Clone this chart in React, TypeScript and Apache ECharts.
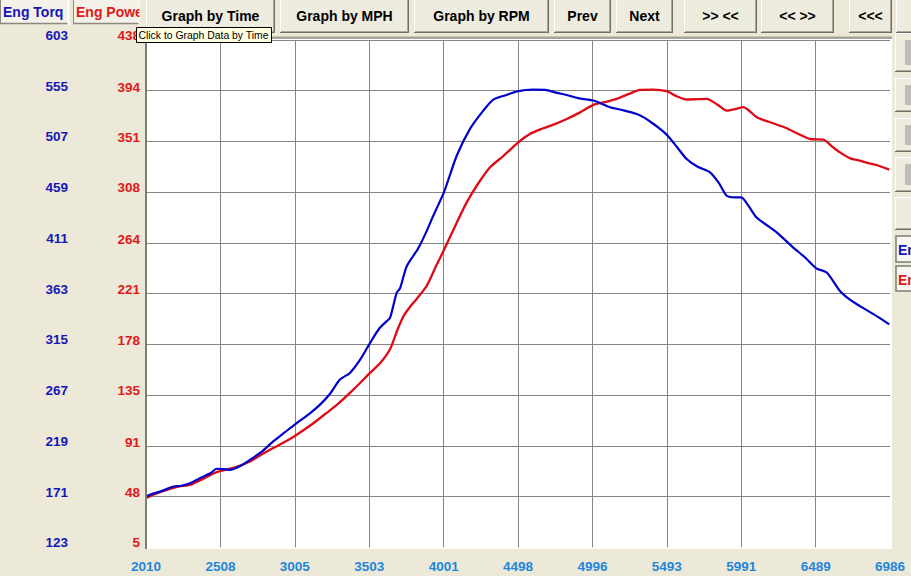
import React, { useEffect, useRef } from "react";
import * as echarts from "echarts";

// ---- chart data ----
const xTicks = [2010, 2508, 3005, 3503, 4001, 4498, 4996, 5493, 5991, 6489, 6986];
const torqueTicks = [123, 171, 219, 267, 315, 363, 411, 459, 507, 555, 603];
const powerTicks = [5, 48, 91, 135, 178, 221, 264, 308, 351, 394, 438];

const torqueRpm = [
  2010, 2060, 2110, 2193, 2240, 2304, 2380, 2440, 2483, 2530, 2572, 2640, 2706, 2780, 2861, 2940,
  3018, 3100, 3174, 3240, 3307, 3374, 3440, 3503, 3570, 3620, 3642, 3687, 3709, 3754, 3831, 3880,
  3931, 4005, 4088, 4177, 4266, 4333, 4420, 4500, 4600, 4679, 4760, 4824, 4900, 5002, 5113, 5180,
  5292, 5336, 5400, 5448, 5499, 5560, 5626, 5700, 5782, 5840, 5894, 5950, 5991, 6040, 6094, 6160,
  6228, 6339, 6420, 6493, 6563, 6651, 6720, 6785, 6897, 6981,
];
const torqueValues = [
  171, 174, 176, 180.5, 181, 183.7, 189, 193, 197.3, 197, 196.3, 200, 205.8, 213, 223.2, 232,
  240.6, 249, 258, 268, 281.7, 288, 300, 315, 330, 337, 340, 364, 368, 389, 406, 420,
  436.6, 459.8, 493.5, 518.9, 536.2, 546.6, 551, 554.6, 556, 555.8, 553, 551, 548, 545.7, 539.4, 537.2,
  533, 530, 524, 518.9, 512.5, 502, 490.4, 483, 477.8, 468, 455.6, 454, 454, 446, 435, 428,
  420.9, 406.6, 397, 387, 383, 365.5, 357, 351.2, 341.7, 333.9,
];

const powerRpm = [
  2010, 2060, 2150, 2230, 2304, 2400, 2483, 2600, 2706, 2780, 2861, 2940, 3018, 3120, 3218, 3300,
  3374, 3440, 3508, 3575, 3642, 3690, 3731, 3780, 3820, 3887, 3950, 4005, 4088, 4155, 4222, 4311,
  4400, 4500, 4580, 4667, 4740, 4824, 4910, 5002, 5080, 5158, 5240, 5314, 5400, 5492, 5560, 5626,
  5700, 5760, 5830, 5894, 5950, 6005, 6050, 6094, 6180, 6295, 6370, 6451, 6540, 6600, 6651, 6720,
  6785, 6840, 6897, 6981,
];
const powerValues = [
  47, 50, 54, 57, 58.3, 64, 69.2, 73, 78.2, 84, 89.7, 95, 101.1, 110, 119.7, 128,
  136.8, 145, 153.9, 162, 174, 190, 202, 211, 217, 228, 245, 259.4, 282, 299.4, 313.6, 329.3,
  339, 350.7, 358, 362.7, 366, 370.6, 376, 382.6, 385, 387.8, 392, 395.4, 395.7, 394.3, 390, 387.2,
  387.5, 387.8, 383, 377.7, 379, 380.7, 377, 372.1, 368, 362.7, 358, 353.5, 353, 347, 342.1, 337,
  335, 333, 331.3, 327.3,
];

// ---- UI chrome texts ----
const buttonLabels = ["Graph by Time", "Graph by MPH", "Graph by RPM", "Prev", "Next", ">> <<", "<< >>", "<<<", ""];
const tabLabels = ["Eng Torq", "Eng Power"];
const sideLabels = ["En", "En"];
const tooltipText = "Click to Graph Data by Time";

// ---- layout (not data) ----
const buttonSpans = [
  [146, 275], [280, 409], [414, 549], [554, 611], [616, 673], [684, 757], [761, 834], [849, 892], [896, 930],
];
const FONT = '"Liberation Sans", Arial, sans-serif';
const BG = "#ECE9D8";
const BLUE_LABEL = "#1616B8";
const RED_LABEL = "#E21818";
const X_LABEL = "#1E86DE";

function bevel(x0: number, y0: number, x1: number, y1: number, z = 5) {
  return [
    { type: "rect", z, shape: { x: x0, y: y0, width: x1 - x0, height: y1 - y0 }, style: { fill: "#EEEBDF" } },
    { type: "line", z: z + 1, shape: { x1: x0 + 0.5, y1: y0, x2: x0 + 0.5, y2: y1 - 1 }, style: { stroke: "#FFFFFF", lineWidth: 1 } },
    { type: "line", z: z + 1, shape: { x1: x0, y1: y0 + 0.5, x2: x1 - 1, y2: y0 + 0.5 }, style: { stroke: "#FFFFFF", lineWidth: 1 } },
    { type: "line", z: z + 1, shape: { x1: x0, y1: y1 - 0.5, x2: x1, y2: y1 - 0.5 }, style: { stroke: "#716F64", lineWidth: 1 } },
    { type: "line", z: z + 1, shape: { x1: x1 - 0.5, y1: y0, x2: x1 - 0.5, y2: y1 }, style: { stroke: "#716F64", lineWidth: 1 } },
    { type: "line", z: z + 1, shape: { x1: x0 + 1, y1: y1 - 1.5, x2: x1 - 1, y2: y1 - 1.5 }, style: { stroke: "#ACA899", lineWidth: 1 } },
    { type: "line", z: z + 1, shape: { x1: x1 - 1.5, y1: y0, x2: x1 - 1.5, y2: y1 - 1 }, style: { stroke: "#ACA899", lineWidth: 1 } },
  ];
}

function buildGraphic() {
  const els: any[] = [];
  // plot background
  els.push({ type: "rect", z: -1, shape: { x: 146, y: 38, width: 746, height: 511 }, style: { fill: "#FFFFFF" } });
  els.push({ type: "line", z: 50, shape: { x1: 146, y1: 37, x2: 146, y2: 549 }, style: { stroke: "#7C7C7C", lineWidth: 2 } });
  els.push({ type: "line", z: 50, shape: { x1: 145, y1: 38, x2: 892, y2: 38 }, style: { stroke: "#8A8A8A", lineWidth: 1.5 } });
  els.push({ type: "line", z: 50, shape: { x1: 145, y1: 36.5, x2: 892, y2: 36.5 }, style: { stroke: "#C9C6B6", lineWidth: 1 } });

  // tabs
  const tabs = [[0, 68], [73, 139]];
  const tabColors = [BLUE_LABEL, RED_LABEL];
  tabs.forEach(([a, b], i) => {
    els.push({ type: "rect", z: 5, shape: { x: a, y: 0, width: b - a, height: 24 }, style: { fill: "#F3F1E8" } });
    els.push({ type: "line", z: 6, shape: { x1: a, y1: 23.5, x2: b, y2: 23.5 }, style: { stroke: "#8C8A80", lineWidth: 1.5 } });
    els.push({ type: "line", z: 6, shape: { x1: a + 0.5, y1: 0, x2: a + 0.5, y2: 24 }, style: { stroke: "#8C8A80", lineWidth: 1 } });
    els.push({ type: "line", z: 6, shape: { x1: b + 0.5, y1: 0, x2: b + 0.5, y2: 25 }, style: { stroke: "#FFFFFF", lineWidth: 2 } });
    els.push({
      type: "text", z: 7,
      style: { text: tabLabels[i], x: a + 3, y: 12, verticalAlign: "middle", fill: tabColors[i], font: `bold 14px ${FONT}` },
    });
  });
  els.push({ type: "rect", z: 9, shape: { x: 139.5, y: 0, width: 7, height: 26 }, style: { fill: BG } });

  // top buttons (above the clipped tab text)
  buttonSpans.forEach(([a, b], i) => {
    bevel(a, -2, b, 33, 10).forEach((e) => els.push(e));
    if (buttonLabels[i]) {
      els.push({
        type: "text", z: 13,
        style: {
          text: buttonLabels[i], x: (a + b) / 2, y: 16, align: "center", verticalAlign: "middle",
          fill: "#000000", font: `bold 14px ${FONT}`,
        },
      });
    }
  });

  // right side panel buttons
  const sideBtns = [[33, 72], [78, 112], [118, 152], [157, 192], [197, 230]];
  sideBtns.forEach(([a, b], i) => {
    bevel(895, a, 920, b).forEach((e) => els.push(e));
    if (i < 4) {
      els.push({ type: "rect", z: 8, shape: { x: 905, y: a + 7, width: 8, height: b - a - 14 }, style: { fill: "#BEBDB8" } });
    }
  });
  const sideBoxes = [[236, 262], [266, 291]];
  const sideColors = [BLUE_LABEL, RED_LABEL];
  sideBoxes.forEach(([a, b], i) => {
    els.push({ type: "rect", z: 5, shape: { x: 896, y: a, width: 20, height: b - a }, style: { fill: "#F7F6F1", stroke: "#7E7D78", lineWidth: 1.5 } });
    els.push({
      type: "text", z: 7,
      style: { text: sideLabels[i], x: 898, y: (a + b) / 2 + 1, verticalAlign: "middle", fill: sideColors[i], font: `bold 14px ${FONT}` },
    });
  });

  // tooltip
  els.push({ type: "rect", z: 100, shape: { x: 136.5, y: 27.5, width: 135, height: 15 }, style: { fill: "#FFFFE1", stroke: "#000000", lineWidth: 1 } });
  els.push({
    type: "text", z: 101,
    style: { text: tooltipText, x: 138.5, y: 35.5, verticalAlign: "middle", fill: "#000000", font: `10.4px ${FONT}` },
  });
  return els;
}

function pairs(xs: number[], ys: number[]) {
  return xs.map((x, i) => [x, ys[i]]);
}

export default function App() {
  const ref = useRef<HTMLDivElement>(null);
  useEffect(() => {
    const chart = echarts.init(ref.current!, null, { renderer: "svg" });
    const labelBase = { fontWeight: "bold", fontSize: 13.5, fontFamily: FONT };
    const plain = (v: number) => String(v);
    const option: any = {
      animation: false,
      backgroundColor: BG,
      grid: { left: 146, top: 40, width: 744, height: 507.3, show: false, containLabel: false },
      xAxis: [
        {
          type: "value", min: 2010, max: 6986, position: "bottom",
          axisLine: { show: false }, axisTick: { show: false }, splitLine: { show: false },
          axisLabel: { ...labelBase, color: X_LABEL, margin: 12.5, customValues: xTicks, formatter: plain, showMinLabel: true, showMaxLabel: true },
        },
        {
          type: "value", min: 0, max: 10, interval: 1, position: "bottom",
          axisLine: { show: false }, axisTick: { show: false }, axisLabel: { show: false },
          splitLine: { show: true, showMinLine: false, showMaxLine: false, lineStyle: { color: "#858585", width: 1 } },
        },
      ],
      yAxis: [
        {
          type: "value", min: 123, max: 603, position: "left",
          axisLine: { show: false }, axisTick: { show: false }, splitLine: { show: false },
          axisLabel: { ...labelBase, color: BLUE_LABEL, margin: 78, customValues: torqueTicks, formatter: plain, verticalAlign: "bottom", lineHeight: 9, showMinLabel: true, showMaxLabel: true },
        },
        {
          type: "value", min: 5, max: 438, position: "left",
          axisLine: { show: false }, axisTick: { show: false }, splitLine: { show: false },
          axisLabel: { ...labelBase, color: RED_LABEL, margin: 6, customValues: powerTicks, formatter: plain, verticalAlign: "bottom", lineHeight: 9, showMinLabel: true, showMaxLabel: true },
        },
        {
          type: "value", min: 0, max: 10, interval: 1, position: "left",
          axisLine: { show: false }, axisTick: { show: false }, axisLabel: { show: false },
          splitLine: { show: true, showMinLine: false, showMaxLine: true, lineStyle: { color: "#858585", width: 1 } },
        },
      ],
      series: [
        {
          type: "line", name: "Eng Power", xAxisIndex: 0, yAxisIndex: 1,
          data: pairs(powerRpm, powerValues), symbol: "none", smooth: 0.25, z: 3,
          lineStyle: { color: "#E00A14", width: 2.3 },
        },
        {
          type: "line", name: "Eng Torq", xAxisIndex: 0, yAxisIndex: 0,
          data: pairs(torqueRpm, torqueValues), symbol: "none", smooth: 0.25, z: 4,
          lineStyle: { color: "#0000CC", width: 2.2 },
        },
      ],
      graphic: { elements: buildGraphic() },
    };
    chart.setOption(option);
    return () => chart.dispose();
  }, []);
  return <div ref={ref} style={{ position: "fixed", left: 0, top: 0, width: 911, height: 576 }} />;
}
